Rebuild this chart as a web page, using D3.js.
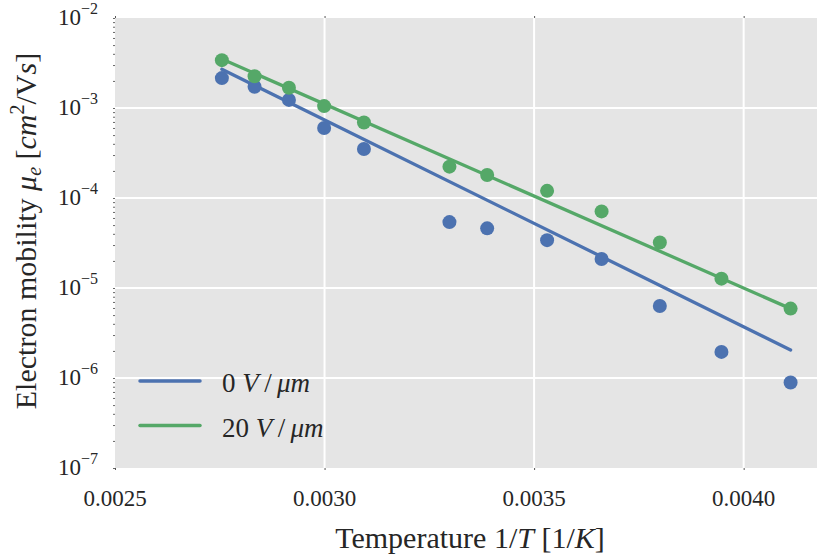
<!DOCTYPE html>
<html>
<head>
<meta charset="utf-8">
<script src="https://cdn.jsdelivr.net/npm/d3@7"></script>
<style>
  html, body { margin: 0; padding: 0; background: #ffffff; }
  svg { display: block; }
  text { font-family: "Liberation Serif", "DejaVu Serif", serif; fill: #262626; }
</style>
</head>
<body>
<svg id="chart" width="819" height="557"></svg>
<script>
// ---- data ----
const invT = [0.002755, 0.002833, 0.002915, 0.002999, 0.003094, 0.003298, 0.003388, 0.003531, 0.003661, 0.003800, 0.003947, 0.004112];
const mobility0V = [2.15e-3, 1.72e-3, 1.23e-3, 6.0e-4, 3.5e-4, 5.4e-5, 4.6e-5, 3.4e-5, 2.1e-5, 6.3e-6, 1.95e-6, 8.9e-7];
const mobility20V = [3.4e-3, 2.25e-3, 1.68e-3, 1.05e-3, 6.9e-4, 2.23e-4, 1.80e-4, 1.20e-4, 7.1e-5, 3.2e-5, 1.27e-5, 5.9e-6];
const fitInvT = [0.002755, 0.004112];
const fit0V = [2.69e-3, 2.05e-6];
const fit20V = [3.5e-3, 5.9e-6];
const xTicks = [0.0025, 0.0030, 0.0035, 0.0040];
const xTickLabels = ["0.0025", "0.0030", "0.0035", "0.0040"];
const yTickExps = [-2, -3, -4, -5, -6, -7];
const seriesNames = ["0", "20"];
const colors = ["#4C72B0", "#55A868"];

// ---- layout ----
const svg = d3.select("#chart");
const pL = 115, pR = 817, pT = 18, pB = 468;

const x = d3.scaleLinear().domain([0.0025, 0.004175]).range([pL, pR]);
const y = d3.scaleLog().domain([1e-7, 1e-2]).range([pB, pT]);

// background
svg.append("rect").attr("x", pL).attr("y", pT)
  .attr("width", pR - pL).attr("height", pB - pT).attr("fill", "#E5E5E5");

// grid
const g = svg.append("g");
g.selectAll(".gx").data(xTicks.slice(1)).join("line")
  .attr("x1", d => x(d)).attr("x2", d => x(d)).attr("y1", pT).attr("y2", pB)
  .attr("stroke", "#ffffff").attr("stroke-width", 2);
g.selectAll(".gy").data(yTickExps.slice(1, -1)).join("line")
  .attr("x1", pL).attr("x2", pR).attr("y1", d => y(Math.pow(10, d))).attr("y2", d => y(Math.pow(10, d)))
  .attr("stroke", "#ffffff").attr("stroke-width", 2);

// axes (tiny ticks)
const xAxisB = d3.axisBottom(x).tickValues(xTicks).tickSize(2).tickFormat("");
svg.append("g").attr("transform", `translate(0,${pB})`).call(xAxisB)
  .call(s => s.select(".domain").remove())
  .call(s => s.selectAll("line").attr("stroke", "#555").attr("stroke-width", 1));
const xAxisT = d3.axisTop(x).tickValues(xTicks).tickSize(2).tickFormat("");
svg.append("g").attr("transform", `translate(0,${pT})`).call(xAxisT)
  .call(s => s.select(".domain").remove())
  .call(s => s.selectAll("line").attr("stroke", "#555").attr("stroke-width", 1));

const minorVals = [];
for (let e = -7; e < -2; e++) for (let m = 2; m <= 9; m++) minorVals.push(m * Math.pow(10, e));
const yAxisL = d3.axisLeft(y).tickValues(minorVals.concat(yTickExps.map(e => Math.pow(10, e)))).tickSize(2).tickFormat("");
svg.append("g").attr("transform", `translate(${pL},0)`).call(yAxisL)
  .call(s => s.select(".domain").remove())
  .call(s => s.selectAll("line").attr("stroke", "#666").attr("stroke-width", 1));

// x tick labels
svg.selectAll(".xtl").data(xTicks).join("text")
  .attr("x", d => x(d)).attr("y", 506).attr("text-anchor", "middle")
  .attr("font-size", 23).text((d, i) => xTickLabels[i]);

// y tick labels
yTickExps.forEach(e => {
  const t = svg.append("text").attr("x", 98).attr("y", y(Math.pow(10, e)) + 7)
    .attr("text-anchor", "end").attr("font-size", 23);
  t.append("tspan").text("10");
  t.append("tspan").attr("font-size", 16).attr("dy", -11).text("\u2212" + Math.abs(e));
});

// x label
const xl = svg.append("text").attr("x", 470).attr("y", 548).attr("text-anchor", "middle").attr("font-size", 30);
xl.append("tspan").text("Temperature 1/");
xl.append("tspan").attr("font-style", "italic").text("T");
xl.append("tspan").text(" [1/");
xl.append("tspan").attr("font-style", "italic").text("K");
xl.append("tspan").text("]");

// y label
const yl = svg.append("text").attr("transform", "translate(36,231) rotate(-90)")
  .attr("text-anchor", "middle").attr("font-size", 30);
yl.append("tspan").text("Electron mobility ");
yl.append("tspan").attr("font-style", "italic").text("\u03BC");
yl.append("tspan").attr("font-style", "italic").attr("font-size", 20).attr("dy", 5).text("e");
yl.append("tspan").attr("dy", -5).text(" [");
yl.append("tspan").attr("font-style", "italic").text("cm");
yl.append("tspan").attr("font-size", 20).attr("dy", -12).text("2");
yl.append("tspan").attr("dy", 12).text("/V");
yl.append("tspan").attr("font-style", "italic").text("s");
yl.append("tspan").text("]");

// fit lines
const lineGen = d3.line().x(d => x(d[0])).y(d => y(d[1]));
[fit0V, fit20V].forEach((fit, i) => {
  svg.append("path").datum(fitInvT.map((v, j) => [v, fit[j]]))
    .attr("d", lineGen).attr("fill", "none").attr("stroke", colors[i])
    .attr("stroke-width", 3.3).attr("stroke-linecap", "round");
});

// points
[mobility0V, mobility20V].forEach((vals, i) => {
  svg.append("g").selectAll("circle").data(invT.map((v, j) => [v, vals[j]])).join("circle")
    .attr("cx", d => x(d[0])).attr("cy", d => y(d[1])).attr("r", 7).attr("fill", colors[i]);
});

// legend
seriesNames.forEach((name, i) => {
  const ly = 381 + i * 44.5;
  svg.append("line").attr("x1", 140).attr("x2", 200).attr("y1", ly).attr("y2", ly)
    .attr("stroke", colors[i]).attr("stroke-width", 3.5).attr("stroke-linecap", "round");
  const t = svg.append("text").attr("x", 222).attr("y", ly + 11).attr("font-size", 27);
  t.append("tspan").text(name + " ");
  t.append("tspan").attr("font-style", "italic").text("V");
  t.append("tspan").text("\u2009/\u2009");
  t.append("tspan").attr("font-style", "italic").text("\u03BCm");
});
</script>
</body>
</html>
